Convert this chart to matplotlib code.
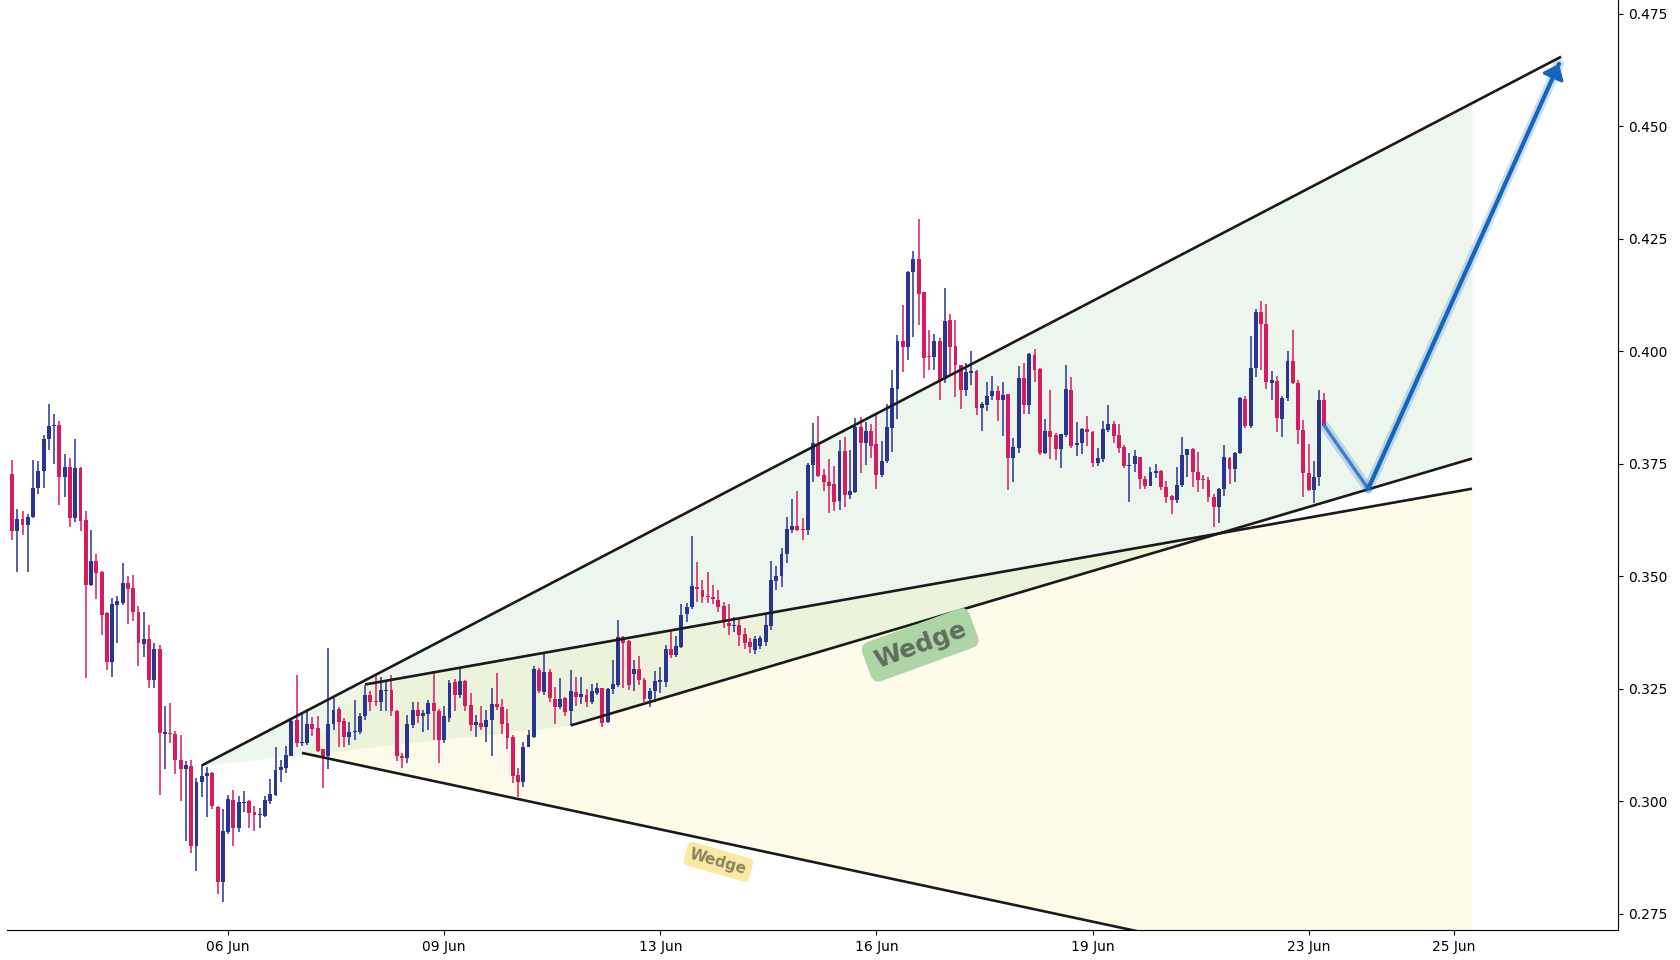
import matplotlib
matplotlib.use("Agg")
import matplotlib.pyplot as plt
import matplotlib.patheffects as pe
import numpy as np

# ---------------- data ----------------
opens = [
    .3728, .3600, .3628, .3615, .3632, .3697, .3734, .3806, .3834, .3837,
    .3722, .3743, .3629, .3741, .3626, .3480, .3534, .3510, .3419, .3311,
    .3436, .3442, .3486, .3474, .3422, .3350, .3361, .3269, .3339, .3151,
    .3153, .3150, .3093, .3073, .3079, .2900, .3043, .3057, .3063, .2988,
    .2822, .2933, .3003, .2940, .2997, .3000, .2977, .2969, .2967, .3002,
    .3015, .3069, .3075, .3101, .3182, .3129, .3131, .3172, .3164, .3116,
    .3100, .3172, .3205, .3178, .3144, .3154, .3155, .3189, .3237, .3223,
    .3220, .3245, .3248, .3201, .3101, .3097, .3171, .3203, .3191, .3194,
    .3219, .3201, .3137, .3186, .3266, .3237, .3268, .3214, .3169, .3174,
    .3166, .3180, .3217, .3210, .3174, .3143, .3058, .3044, .3120, .3144,
    .3292, .3243, .3287, .3228, .3209, .3230, .3200, .3244, .3233, .3237,
    .3220, .3242, .3252, .3176, .3249, .3259, .3366, .3357, .3283, .3294,
    .3270, .3228, .3245, .3266, .3266, .3338, .3326, .3344, .3416, .3432,
    .3477, .3470, .3457, .3454, .3448, .3434, .3397, .3389, .3392, .3372,
    .3354, .3337, .3345, .3355, .3390, .3491, .3500, .3551, .3603, .3612,
    .3606, .3603, .3748, .3792, .3725, .3709, .3705, .3668, .3779, .3682,
    .3687, .3832, .3796, .3823, .3794, .3726, .3757, .3831, .3917, .4023,
    .4011, .4176, .4205, .4132, .3990, .3988, .4023, .3939, .4070, .4012,
    .3970, .3915, .3953, .3957, .3875, .3881, .3900, .3912, .3892, .3905,
    .3764, .3786, .3940, .3881, .3992, .3961, .3774, .3823, .3814, .3783,
    .3814, .3914, .3792, .3797, .3828, .3822, .3752, .3761, .3826, .3838,
    .3814, .3787, .3746, .3749, .3765, .3716, .3702, .3731, .3734, .3698,
    .3679, .3670, .3703, .3771, .3783, .3733, .3717, .3714, .3676, .3655,
    .3694, .3763, .3739, .3774, .3894, .3835, .3963, .4087, .4060, .3931,
    .3934, .3849, .3897, .3979, .3929, .3826, .3731, .3692, .3722, .3892,
]
highs = [
    .3759, .3650, .3646, .3639, .3759, .3757, .3814, .3884, .3862, .3846,
    .3772, .3763, .3806, .3743, .3646, .3603, .3550, .3512, .3421, .3452,
    .3457, .3530, .3501, .3503, .3434, .3420, .3392, .3352, .3348, .3212,
    .3218, .3157, .3148, .3090, .3092, .3052, .3080, .3077, .3066, .2991,
    .2983, .3014, .3026, .3012, .3023, .3003, .2990, .2985, .3012, .3050,
    .3121, .3092, .3123, .3184, .3281, .3194, .3201, .3187, .3190, .3117,
    .3340, .3229, .3211, .3185, .3176, .3226, .3196, .3259, .3246, .3279,
    .3277, .3270, .3281, .3203, .3107, .3192, .3222, .3222, .3203, .3226,
    .3289, .3205, .3212, .3269, .3272, .3294, .3270, .3240, .3192, .3212,
    .3203, .3252, .3286, .3227, .3205, .3148, .3074, .3132, .3159, .3302,
    .3296, .3331, .3294, .3255, .3275, .3233, .3292, .3277, .3276, .3250,
    .3261, .3263, .3253, .3253, .3315, .3403, .3368, .3358, .3315, .3323,
    .3274, .3252, .3289, .3298, .3348, .3378, .3368, .3439, .3440, .3589,
    .3532, .3492, .3509, .3481, .3470, .3444, .3439, .3411, .3405, .3385,
    .3363, .3368, .3368, .3415, .3535, .3523, .3564, .3633, .3672, .3690,
    .3629, .3753, .3842, .3857, .3738, .3761, .3746, .3803, .3811, .3781,
    .3852, .3855, .3844, .3839, .3859, .3802, .3883, .3959, .4037, .4103,
    .4179, .4223, .4295, .4133, .4048, .4038, .4031, .4140, .4083, .4070,
    .3971, .3974, .4001, .3958, .3887, .3932, .3946, .3923, .3932, .3906,
    .3807, .3968, .3975, .3997, .4006, .3964, .3850, .3914, .3818, .3816,
    .3970, .3943, .3843, .3831, .3857, .3824, .3786, .3846, .3881, .3846,
    .3839, .3792, .3774, .3781, .3766, .3723, .3744, .3750, .3737, .3712,
    .3681, .3744, .3809, .3783, .3785, .3776, .3726, .3722, .3683, .3697,
    .3792, .3766, .3777, .3898, .3901, .4035, .4094, .4112, .4106, .3957,
    .3946, .3900, .4000, .4048, .3937, .3848, .3795, .3757, .3915, .3907,
]
lows = [
    .3580, .3511, .3593, .3511, .3630, .3684, .3697, .3782, .3751, .3659,
    .3677, .3609, .3622, .3600, .3275, .3478, .3451, .3370, .3292, .3277,
    .3353, .3437, .3395, .3401, .3300, .3322, .3252, .3252, .3015, .3073,
    .3131, .3060, .3000, .2913, .2886, .2846, .3011, .2966, .2984, .2794,
    .2777, .2927, .2902, .2932, .2977, .2940, .2935, .2940, .2965, .2994,
    .3013, .3044, .3064, .3100, .3120, .3123, .3126, .3146, .3111, .3029,
    .3072, .3159, .3120, .3122, .3126, .3137, .3150, .3180, .3200, .3212,
    .3200, .3200, .3189, .3089, .3074, .3085, .3163, .3174, .3155, .3159,
    .3137, .3085, .3131, .3177, .3202, .3229, .3200, .3157, .3144, .3159,
    .3132, .3101, .3203, .3150, .3116, .3040, .3009, .3033, .3120, .3140,
    .3240, .3237, .3222, .3172, .3206, .3191, .3169, .3213, .3217, .3211,
    .3216, .3237, .3165, .3174, .3238, .3255, .3252, .3248, .3246, .3258,
    .3220, .3209, .3220, .3240, .3255, .3318, .3320, .3340, .3398, .3427,
    .3444, .3440, .3442, .3439, .3422, .3385, .3370, .3377, .3345, .3338,
    .3330, .3328, .3338, .3345, .3380, .3469, .3477, .3531, .3597, .3601,
    .3580, .3592, .3711, .3720, .3691, .3642, .3646, .3648, .3655, .3672,
    .3685, .3731, .3748, .3764, .3694, .3722, .3752, .3777, .3850, .3955,
    .3980, .4033, .4059, .3942, .3959, .3959, .3892, .3929, .3948, .3898,
    .3872, .3902, .3926, .3859, .3824, .3868, .3892, .3846, .3812, .3692,
    .3711, .3775, .3861, .3861, .3933, .3771, .3772, .3761, .3759, .3742,
    .3809, .3785, .3768, .3772, .3791, .3744, .3746, .3755, .3822, .3796,
    .3774, .3742, .3665, .3733, .3694, .3694, .3701, .3718, .3692, .3663,
    .3639, .3663, .3698, .3722, .3698, .3687, .3694, .3666, .3611, .3618,
    .3678, .3706, .3711, .3772, .3829, .3829, .3944, .3959, .3917, .3892,
    .3822, .3811, .3889, .3928, .3795, .3677, .3691, .3663, .3700, .3833,
]
closes = [
    .3600, .3628, .3615, .3632, .3697, .3734, .3806, .3834, .3837, .3722,
    .3743, .3629, .3741, .3624, .3480, .3534, .3508, .3415, .3311, .3439,
    .3446, .3486, .3473, .3422, .3352, .3361, .3269, .3339, .3152, .3153,
    .3149, .3093, .3073, .3081, .2900, .3043, .3057, .3063, .2989, .2822,
    .2934, .3006, .2940, .2998, .2999, .2975, .2969, .2970, .3003, .3017,
    .3070, .3077, .3103, .3179, .3129, .3131, .3172, .3162, .3113, .3100,
    .3172, .3203, .3177, .3144, .3154, .3156, .3190, .3237, .3222, .3220,
    .3248, .3248, .3201, .3100, .3097, .3172, .3203, .3191, .3196, .3219,
    .3200, .3137, .3190, .3264, .3237, .3268, .3212, .3169, .3176, .3166,
    .3181, .3217, .3209, .3172, .3142, .3057, .3044, .3122, .3147, .3294,
    .3246, .3287, .3229, .3211, .3228, .3198, .3246, .3233, .3239, .3222,
    .3246, .3252, .3174, .3250, .3261, .3366, .3353, .3258, .3294, .3269,
    .3228, .3246, .3268, .3270, .3339, .3326, .3346, .3415, .3432, .3479,
    .3472, .3455, .3454, .3449, .3433, .3400, .3389, .3392, .3370, .3352,
    .3343, .3362, .3364, .3392, .3492, .3501, .3550, .3605, .3612, .3603,
    .3603, .3748, .3796, .3723, .3709, .3702, .3666, .3779, .3680, .3690,
    .3833, .3796, .3823, .3791, .3726, .3757, .3832, .3918, .4023, .4011,
    .4177, .4205, .4128, .3986, .3987, .4023, .3937, .4068, .4011, .3969,
    .3915, .3954, .3957, .3875, .3883, .3901, .3912, .3892, .3903, .3764,
    .3787, .3940, .3881, .3995, .3959, .3774, .3823, .3811, .3783, .3816,
    .3916, .3790, .3796, .3828, .3820, .3753, .3763, .3828, .3838, .3813,
    .3786, .3746, .3748, .3768, .3716, .3702, .3732, .3734, .3698, .3677,
    .3670, .3703, .3770, .3783, .3733, .3715, .3714, .3676, .3655, .3694,
    .3765, .3738, .3775, .3896, .3835, .3963, .4087, .4060, .3932, .3937,
    .3852, .3897, .3979, .3929, .3826, .3729, .3692, .3722, .3892, .3835,
]

x_tick_pos = [41, 82, 123, 164, 205, 246, 273.5]
x_tick_labels = ["06 Jun", "09 Jun", "13 Jun", "16 Jun", "19 Jun", "23 Jun", "25 Jun"]
y_ticks = [0.275, 0.300, 0.325, 0.350, 0.375, 0.400, 0.425, 0.450, 0.475]

# drawing objects (bar index, price)
big_upper_x = [36, 293.9]
big_upper_y = [0.3080, 0.4655]
big_lower_x = [106, 277]
big_lower_y = [0.3169, 0.3762]
small_upper_x = [67, 277]
small_upper_y = [0.3260, 0.3695]
small_lower_x = [55, 277]
small_lower_y = [0.3108, 0.2553]
proj_x = [249, 257.3, 293.5]
proj_y = [0.3835, 0.3695, 0.4639]
big_label_pos = (172.3, 0.3348)
small_label_pos = (134.0, 0.2866)

# ---------------- figure ----------------
fig = plt.figure(figsize=(16.8, 9.6), dpi=100)
ax = fig.add_axes([7.5 / 1680, 30 / 960, (1618 - 7.5) / 1680, 930 / 960])
ax.set_xlim(-0.854, 304.7)
ax.set_ylim(0.27144, 0.47811)

# yellow (small wedge) fill
xs = np.linspace(small_lower_x[0], small_lower_x[1], 600)
y_top = np.interp(xs, [small_lower_x[0]] + small_upper_x, [small_lower_y[0]] + small_upper_y)
y_bot = np.interp(xs, small_lower_x, small_lower_y)
ax.fill_between(xs, y_bot, y_top, color="#fdd835", alpha=0.1, linewidth=0, zorder=1)

# green (big wedge) fill
xg = np.linspace(big_upper_x[0], big_lower_x[1], 600)
g_top = np.interp(xg, big_upper_x, big_upper_y)
g_bot = np.interp(xg, [big_upper_x[0]] + big_lower_x, [big_upper_y[0]] + big_lower_y)
ax.fill_between(xg, g_bot, g_top, color="#4caf50", alpha=0.1, linewidth=0, zorder=1.1)

# candles
o = np.array(opens); h = np.array(highs); l = np.array(lows); c = np.array(closes)
idx = np.arange(len(o))
up = c >= o
cols = np.where(up, "#283593", "#d81b60")
ax.vlines(idx, l, h, colors=cols, linewidth=1.1, zorder=3)
body_bot = np.minimum(o, c)
body_h = np.maximum(np.abs(c - o), 0.00028)
ax.bar(idx, body_h, bottom=body_bot, width=0.74, color=cols, linewidth=0, zorder=3.1)

# pattern lines
line_kw = dict(color="#1a1a1a", linewidth=1.9, zorder=5, solid_capstyle="butt")
ax.plot(big_upper_x, big_upper_y, **line_kw)
ax.plot(big_lower_x, big_lower_y, **line_kw)
ax.plot(small_upper_x, small_upper_y, **line_kw)
ax.plot(small_lower_x, small_lower_y, **line_kw)

# labels
ax.text(*big_label_pos, "Wedge", rotation=20, ha="center", va="center",
        fontsize=18, fontweight="bold", color="#5e6e5a", zorder=6,
        bbox=dict(boxstyle="round,pad=0.35,rounding_size=0.35", fc="#aed5a6", ec="none"))
ax.text(*small_label_pos, "Wedge", rotation=-16, ha="center", va="center",
        fontsize=11, fontweight="bold", color="#8a8460", zorder=6,
        bbox=dict(boxstyle="round,pad=0.3,rounding_size=0.3", fc="#fbe9a3", ec="none"))

# projection arrow
glow = [pe.Stroke(linewidth=7, foreground="#1565c0", alpha=0.22), pe.Normal()]
ax.plot(proj_x[:2], proj_y[:2], color="#3d7fd0", linewidth=2.4, zorder=7,
        solid_capstyle="round", path_effects=glow)
ax.plot(proj_x[1:], proj_y[1:], color="#1565c0", linewidth=3.0, zorder=7,
        solid_capstyle="round", path_effects=glow)
fx = proj_x[1] + 0.96 * (proj_x[2] - proj_x[1])
fy = proj_y[1] + 0.96 * (proj_y[2] - proj_y[1])
ax.annotate("", xy=(proj_x[2], proj_y[2]), xytext=(fx, fy),
            arrowprops=dict(arrowstyle="-|>,head_length=0.55,head_width=0.45",
                            color="#1565c0", lw=2.5,
                            mutation_scale=15, shrinkA=0, shrinkB=0), zorder=8)

# axes styling
for s in ("left", "top"):
    ax.spines[s].set_visible(False)
ax.yaxis.tick_right()
ax.set_yticks(y_ticks)
ax.set_yticklabels([f"{v:.3f}" for v in y_ticks])
ax.set_xticks(x_tick_pos)
ax.set_xticklabels(x_tick_labels)
ax.tick_params(axis="both", labelsize=10, colors="black")

fig.savefig("out.png", dpi=100)
